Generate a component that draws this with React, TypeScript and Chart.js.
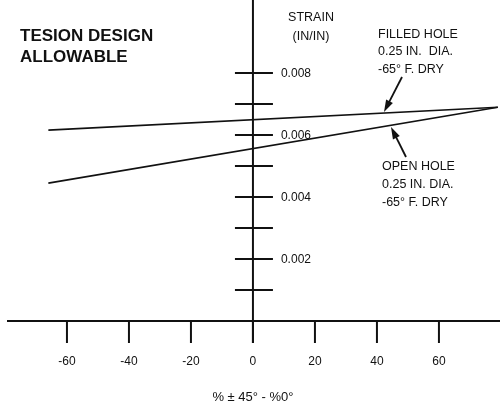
import React, { useEffect, useRef } from "react";
import { Chart, registerables } from "chart.js";
Chart.register(...registerables);

// Data
const lineStartX = -66;
const lineEndX = 79;
const filledHole = [0.00616, 0.0069];
const openHole = [0.00445, 0.0069];
const xTicks = [-60, -40, -20, 0, 20, 40, 60];
const xTickLabels = ["-60", "-40", "-20", "0", "20", "40", "60"];
const yTicks = [0.001, 0.002, 0.003, 0.004, 0.005, 0.006, 0.007, 0.008];
const yLabelTicks = [0.002, 0.004, 0.006, 0.008];
const yLabelText = ["0.002", "0.004", "0.006", "0.008"];

const X_MIN = -81.6;
const X_MAX = 79.7;
const Y_MIN = -0.00284;
const Y_MAX = 0.01036;

const FONT = "'Liberation Sans', Arial, Helvetica, sans-serif";

function arrow(ctx: CanvasRenderingContext2D, x1: number, y1: number, x2: number, y2: number) {
  const ang = Math.atan2(y2 - y1, x2 - x1);
  const len = 12;
  const w = 3.8;
  ctx.beginPath();
  ctx.moveTo(x1, y1);
  ctx.lineTo(x2 - (len - 2) * Math.cos(ang), y2 - (len - 2) * Math.sin(ang));
  ctx.stroke();
  ctx.beginPath();
  ctx.moveTo(x2, y2);
  ctx.lineTo(x2 - len * Math.cos(ang) + w * Math.sin(ang), y2 - len * Math.sin(ang) - w * Math.cos(ang));
  ctx.lineTo(x2 - len * Math.cos(ang) - w * Math.sin(ang), y2 - len * Math.sin(ang) + w * Math.cos(ang));
  ctx.closePath();
  ctx.fill();
}

const axesPlugin = {
  id: "customAxes",
  beforeDraw(chart: any) {
    const ctx = chart.ctx as CanvasRenderingContext2D;
    ctx.save();
    ctx.fillStyle = "#fff";
    ctx.fillRect(0, 0, chart.width, chart.height);
    ctx.restore();
  },
  afterDraw(chart: any) {
    const ctx = chart.ctx as CanvasRenderingContext2D;
    const xs = chart.scales.x;
    const ys = chart.scales.y;
    const x0 = xs.getPixelForValue(0);
    const y0 = ys.getPixelForValue(0);
    ctx.save();
    ctx.strokeStyle = "#111";
    ctx.fillStyle = "#111";
    ctx.lineWidth = 2;
    // x axis
    ctx.beginPath();
    ctx.moveTo(7, y0);
    ctx.lineTo(500, y0);
    ctx.stroke();
    // y axis
    ctx.beginPath();
    ctx.moveTo(x0, 0);
    ctx.lineTo(x0, y0 + 22);
    ctx.stroke();
    // x ticks
    ctx.font = `12px ${FONT}`;
    ctx.textAlign = "center";
    ctx.textBaseline = "middle";
    xTicks.forEach((v, i) => {
      const px = xs.getPixelForValue(v);
      ctx.beginPath();
      ctx.moveTo(px, y0);
      ctx.lineTo(px, y0 + 22);
      ctx.stroke();
      ctx.fillText(xTickLabels[i], px, y0 + 41);
    });
    // y ticks
    yTicks.forEach((v) => {
      const py = ys.getPixelForValue(v);
      ctx.beginPath();
      ctx.moveTo(x0 - 18, py);
      ctx.lineTo(x0 + 20, py);
      ctx.stroke();
    });
    ctx.textAlign = "left";
    yLabelTicks.forEach((v, i) => {
      const py = ys.getPixelForValue(v);
      ctx.fillText(yLabelText[i], x0 + 28, py + 1);
    });
    // axis titles
    ctx.textAlign = "center";
    ctx.font = `12.5px ${FONT}`;
    ctx.fillText("STRAIN", 311, 18);
    ctx.fillText("(IN/IN)", 311, 37);
    ctx.font = `13px ${FONT}`;
    ctx.fillText("% ± 45° - %0°", x0, 397);
    // title
    ctx.textAlign = "left";
    ctx.font = `bold 17px ${FONT}`;
    ctx.fillText("TESION DESIGN", 20, 36);
    ctx.fillText("ALLOWABLE", 20, 57);
    // annotations
    ctx.font = `12.5px ${FONT}`;
    ctx.fillText("FILLED HOLE", 378, 35);
    ctx.fillText("0.25 IN.  DIA.", 378, 52);
    ctx.fillText("-65° F. DRY", 378, 70);
    ctx.fillText("OPEN HOLE", 382, 167);
    ctx.fillText("0.25 IN. DIA.", 382, 185);
    ctx.fillText("-65° F. DRY", 382, 203);
    ctx.lineWidth = 1.8;
    arrow(ctx, 402, 77, 384, 112);
    arrow(ctx, 406, 157, 391, 127);
    ctx.restore();
  },
};

export default function App() {
  const ref = useRef<HTMLCanvasElement | null>(null);
  useEffect(() => {
    if (!ref.current) return;
    const chart = new Chart(ref.current, {
      type: "scatter",
      data: {
        datasets: [
          {
            label: "Filled hole",
            data: [
              { x: lineStartX, y: filledHole[0] },
              { x: lineEndX, y: filledHole[1] },
            ],
            showLine: true,
            borderColor: "#111",
            borderWidth: 1.6,
            pointRadius: 0,
          },
          {
            label: "Open hole",
            data: [
              { x: lineStartX, y: openHole[0] },
              { x: lineEndX, y: openHole[1] },
            ],
            showLine: true,
            borderColor: "#111",
            borderWidth: 1.6,
            pointRadius: 0,
          },
        ],
      },
      options: {
        animation: false,
        responsive: false,
        maintainAspectRatio: false,
        layout: { padding: 0 },
        plugins: { legend: { display: false }, tooltip: { enabled: false } },
        scales: {
          x: { type: "linear", min: X_MIN, max: X_MAX, display: false },
          y: { type: "linear", min: Y_MIN, max: Y_MAX, display: false },
        },
      },
      plugins: [axesPlugin],
    });
    return () => chart.destroy();
  }, []);
  return (
    <div style={{ position: "absolute", left: 0, top: 0, width: 500, height: 409 }}>
      <canvas ref={ref} width={500} height={409} style={{ width: 500, height: 409 }} />
    </div>
  );
}
